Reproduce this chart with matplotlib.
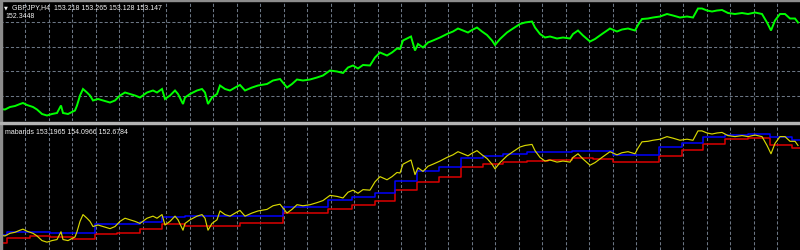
import numpy as np
import matplotlib
matplotlib.use("Agg")
import matplotlib.pyplot as plt
from matplotlib.patches import Rectangle

# ---------------- data ----------------
bars = [0, 5, 10, 15, 20, 23, 27, 33, 37, 42, 47, 52, 57, 61, 63, 68, 72, 75, 77, 80,
        83, 87, 90, 93, 98, 103, 110, 115, 120, 125, 130, 135, 140, 147, 153, 157, 162, 165, 170, 175,
        178, 183, 185, 190, 197, 202, 205, 208, 212, 217, 220, 225, 230, 237, 240, 245, 252, 258, 267, 273,
        280, 287, 292, 297, 303, 310, 317, 323, 330, 337, 343, 348, 353, 358, 363, 370, 375, 380, 387, 392,
        397, 400, 403, 407, 411, 415, 418, 423, 428, 433, 440, 447, 453, 458, 463, 468, 472, 477, 482, 487,
        492, 495, 500, 507, 513, 520, 525, 532, 535, 540, 545, 550, 557, 563, 570, 573, 578, 583, 590, 595,
        602, 610, 617, 622, 628, 635, 638, 642, 648, 653, 660, 667, 673, 680, 687, 693, 698, 702, 707, 712,
        717, 722, 728, 735, 742, 748, 755, 762, 767, 771, 775, 780, 785, 790, 795, 798]
close = [151.41, 151.40, 151.45, 151.47, 151.51, 151.53, 151.49, 151.45, 151.40, 151.31, 151.28, 151.31, 151.33, 151.48, 151.33, 151.31, 151.35, 151.38, 151.48, 151.68,
         151.81, 151.74, 151.68, 151.58, 151.61, 151.58, 151.54, 151.58, 151.68, 151.74, 151.71, 151.68, 151.64, 151.74, 151.78, 151.74, 151.81, 151.61, 151.68, 151.78,
         151.71, 151.51, 151.64, 151.71, 151.78, 151.81, 151.74, 151.51, 151.64, 151.71, 151.88, 151.81, 151.78, 151.86, 151.89, 151.78, 151.84, 151.88, 151.91, 151.98,
         152.01, 151.84, 151.91, 152.00, 151.98, 152.00, 152.04, 152.08, 152.18, 152.16, 152.13, 152.24, 152.28, 152.22, 152.29, 152.28, 152.44, 152.54, 152.48, 152.54,
         152.62, 152.61, 152.78, 152.82, 152.86, 152.58, 152.71, 152.64, 152.74, 152.78, 152.84, 152.91, 152.96, 153.02, 152.98, 152.94, 152.99, 153.04, 152.96, 152.89,
         152.78, 152.69, 152.81, 152.94, 153.02, 153.11, 153.14, 153.16, 153.04, 152.91, 152.84, 152.86, 152.82, 152.84, 152.82, 152.91, 152.98, 152.88, 152.76, 152.81,
         152.91, 153.02, 152.96, 153.00, 153.02, 152.98, 153.09, 153.21, 153.22, 153.24, 153.26, 153.31, 153.28, 153.24, 153.26, 153.24, 153.42, 153.42, 153.38, 153.36,
         153.38, 153.39, 153.33, 153.31, 153.33, 153.31, 153.34, 153.31, 153.14, 152.98, 153.18, 153.31, 153.31, 153.22, 153.22, 153.14]

band_starts = [0, 7, 30, 50, 73, 95, 117, 140, 162, 185, 213, 240, 283, 328, 352, 375, 395, 417, 439, 461,
               483, 503, 527, 548, 572, 593, 613, 659, 682, 703, 725, 748, 770, 792]
upper_band = [151.418, 151.481, 151.481, 151.456, 151.456, 151.629, 151.629, 151.673, 151.758, 151.777, 151.789, 151.789, 151.950, 152.097, 152.154, 152.225, 152.462, 152.654, 152.720, 152.893,
              152.943, 152.975, 153.008, 153.020, 153.039, 153.027, 152.956, 153.104, 153.187, 153.297, 153.341, 153.360, 153.297, 153.245]
lower_band = [151.264, 151.354, 151.404, 151.379, 151.335, 151.437, 151.462, 151.527, 151.629, 151.597, 151.597, 151.648, 151.841, 151.918, 151.995, 152.077, 152.283, 152.443, 152.527, 152.720,
              152.783, 152.827, 152.847, 152.866, 152.893, 152.879, 152.827, 152.943, 153.058, 153.168, 153.264, 153.277, 153.148, 153.085]
last_bar = 800

title_text = "GBPJPY,H4  153.218 153.265 153.128 153.147"
sub_text = "152.3448"
ind_text = "mabands 153.1965 154.0966 152.6784"

# ---------------- style ----------------
W, H = 800, 251
BG = "#000000"
GRID = "#6b7684"
BORDER = "#8c8c8c"
TXT = "#f2f2f2"

fig = plt.figure(figsize=(W / 100, H / 100), dpi=100, facecolor=BG)

def fy(px):
    return 1 - px / H

top_top, top_bot = 1.5, 121.7
bot_top, bot_bot = 125.5, 251.0
ax1 = fig.add_axes([0, fy(top_bot), 1, (top_bot - top_top) / H])
ax2 = fig.add_axes([0, fy(bot_bot), 1, (bot_bot - bot_top) / H])

xgrid = np.arange(25, last_bar, 23.5)
for ax in (ax1, ax2):
    ax.set_facecolor(BG)
    ax.set_xlim(0, last_bar)
    ax.set_xticks(xgrid)
    ax.tick_params(length=0, labelbottom=False, labelleft=False)
    for s in ax.spines.values():
        s.set_visible(False)
    ax.grid(True, axis="x", color=GRID, lw=0.75, linestyle=(0, (3, 2)))
    ax.set_axisbelow(True)

# top panel
ax1.set_ylim(151.176, 153.58)
ax1.set_yticks([151.176, 151.67, 152.164, 152.656, 153.15])
ax1.grid(True, axis="y", color=GRID, lw=0.75, linestyle=(0, (3, 2)))
ax1.plot(bars, close, color="#00ff00", lw=1.4, solid_joinstyle="miter")

# bottom panel
ax2.set_ylim(151.129, 153.543)
ax2.set_yticks([])
xs = np.append(band_starts, last_bar)
ax2.plot(xs, np.append(lower_band, lower_band[-1]), drawstyle="steps-post", color="#dd0000", lw=1.1)
ax2.plot(xs, np.append(upper_band, upper_band[-1]), drawstyle="steps-post", color="#0000ff", lw=1.1)
ax2.plot(bars, close, color="#d8d800", lw=0.85)

# borders and separator
fig.patches.append(Rectangle((0, fy(2)), 1, 1.3 / H, transform=fig.transFigure, color=BORDER, zorder=5))
fig.patches.append(Rectangle((0, 0), 1.6 / W, 1, transform=fig.transFigure, color=BORDER, zorder=5))
fig.patches.append(Rectangle((0, fy(125.3)), 1, 2.6 / H, transform=fig.transFigure, color="#b4b4b4", zorder=5))

# labels
fs = 5.0
fam = ["Liberation Sans", "DejaVu Sans"]
fig.text(4 / W, fy(7.5), "\u25bc", color=TXT, fontsize=3.6, va="center", ha="left", family="DejaVu Sans")
fig.text(12 / W, fy(7.5), title_text, color=TXT, fontsize=fs, va="center", ha="left", family=fam)
fig.text(5 / W, fy(17), sub_text, color=TXT, fontsize=fs, va="center", ha="left", family=fam)
fig.text(5 / W, fy(132.5), ind_text, color=TXT, fontsize=fs, va="center", ha="left", family=fam)

fig.savefig("out.png", dpi=100, facecolor=BG)
